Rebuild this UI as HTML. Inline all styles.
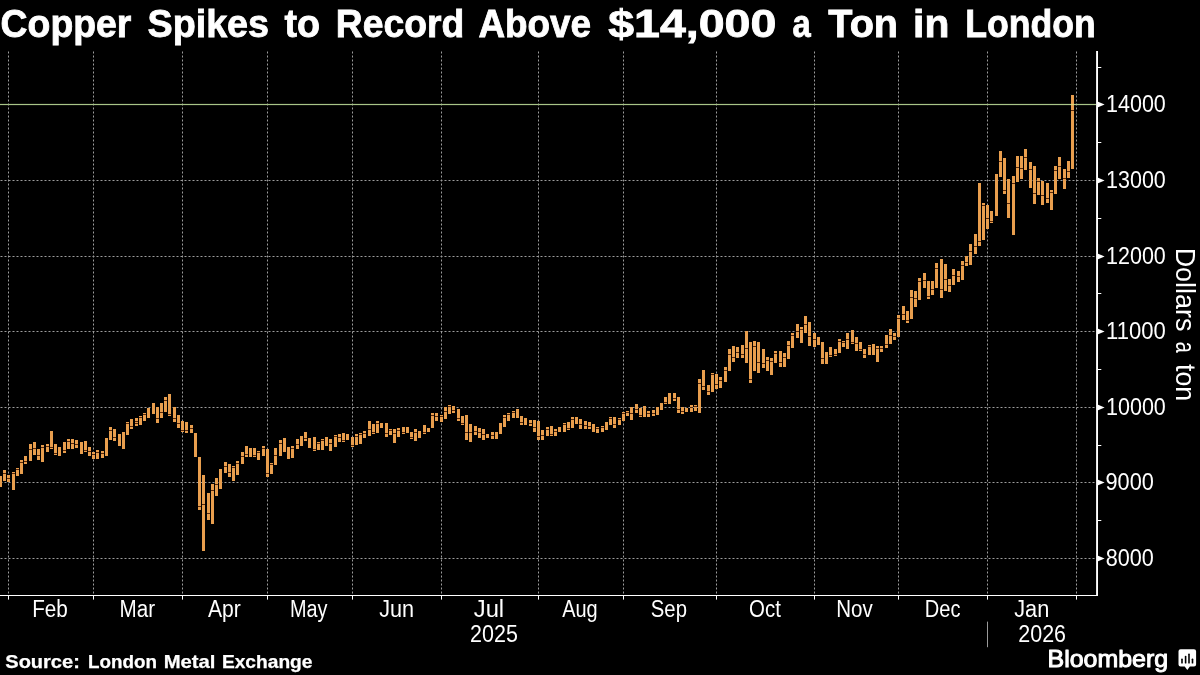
<!DOCTYPE html>
<html lang="en"><head><meta charset="utf-8"><title>Copper Spikes to Record Above $14,000 a Ton in London</title>
<style>html,body{margin:0;padding:0;background:#000;}body{width:1200px;height:675px;overflow:hidden;font-family:"Liberation Sans", sans-serif;}svg{display:block;will-change:transform}text{font-family:"Liberation Sans", sans-serif;fill:#fff}</style>
</head><body>
<svg width="1200" height="675" viewBox="0 0 1200 675">
<rect x="0" y="0" width="1200" height="675" fill="#000"/>
<g stroke="#9c9c9c" stroke-width="1" fill="none">
<line x1="8.5" y1="51.5" x2="8.5" y2="595" stroke-dasharray="2 2"/>
<line x1="93.5" y1="51.5" x2="93.5" y2="595" stroke-dasharray="2 2"/>
<line x1="182.5" y1="51.5" x2="182.5" y2="595" stroke-dasharray="2 2"/>
<line x1="267.5" y1="51.5" x2="267.5" y2="595" stroke-dasharray="2 2"/>
<line x1="352.5" y1="51.5" x2="352.5" y2="595" stroke-dasharray="2 2"/>
<line x1="441.5" y1="51.5" x2="441.5" y2="595" stroke-dasharray="2 2"/>
<line x1="538.5" y1="51.5" x2="538.5" y2="595" stroke-dasharray="2 2"/>
<line x1="623.5" y1="51.5" x2="623.5" y2="595" stroke-dasharray="2 2"/>
<line x1="716.5" y1="51.5" x2="716.5" y2="595" stroke-dasharray="2 2"/>
<line x1="814.5" y1="51.5" x2="814.5" y2="595" stroke-dasharray="2 2"/>
<line x1="898.5" y1="51.5" x2="898.5" y2="595" stroke-dasharray="2 2"/>
<line x1="987.5" y1="51.5" x2="987.5" y2="595" stroke-dasharray="2 2"/>
<line x1="1076.5" y1="51.5" x2="1076.5" y2="595" stroke-dasharray="2 2"/>
<line x1="0.5" y1="180.5" x2="1095" y2="180.5" stroke-dasharray="2 2"/>
<line x1="0.5" y1="256.5" x2="1095" y2="256.5" stroke-dasharray="2 2"/>
<line x1="0.5" y1="331.5" x2="1095" y2="331.5" stroke-dasharray="2 2"/>
<line x1="0.5" y1="407.5" x2="1095" y2="407.5" stroke-dasharray="2 2"/>
<line x1="0.5" y1="482.5" x2="1095" y2="482.5" stroke-dasharray="2 2"/>
<line x1="0.5" y1="558.5" x2="1095" y2="558.5" stroke-dasharray="2 2"/>
</g>
<g fill="#e89e4e" shape-rendering="crispEdges">
<rect x="0" y="476" width="2" height="11"/>
<rect x="3" y="470" width="3" height="11"/>
<rect x="7" y="475" width="3" height="7"/>
<rect x="12" y="472" width="3" height="18"/>
<rect x="16" y="468" width="3" height="8"/>
<rect x="20" y="460" width="3" height="14"/>
<rect x="24" y="456" width="3" height="8"/>
<rect x="29" y="444" width="3" height="17"/>
<rect x="33" y="442" width="3" height="13"/>
<rect x="37" y="449" width="3" height="11"/>
<rect x="41" y="445" width="3" height="17"/>
<rect x="46" y="444" width="3" height="8"/>
<rect x="50" y="431" width="3" height="18"/>
<rect x="54" y="444" width="3" height="11"/>
<rect x="58" y="447" width="3" height="9"/>
<rect x="63" y="442" width="3" height="11"/>
<rect x="67" y="439" width="3" height="10"/>
<rect x="71" y="439" width="3" height="10"/>
<rect x="75" y="440" width="3" height="8"/>
<rect x="80" y="442" width="3" height="12"/>
<rect x="84" y="441" width="3" height="11"/>
<rect x="88" y="447" width="3" height="9"/>
<rect x="92" y="452" width="3" height="7"/>
<rect x="96" y="450" width="3" height="9"/>
<rect x="101" y="451" width="3" height="7"/>
<rect x="105" y="438" width="3" height="18"/>
<rect x="109" y="427" width="3" height="13"/>
<rect x="113" y="429" width="3" height="12"/>
<rect x="118" y="434" width="3" height="12"/>
<rect x="122" y="432" width="3" height="17"/>
<rect x="126" y="422" width="3" height="13"/>
<rect x="130" y="419" width="3" height="10"/>
<rect x="135" y="418" width="3" height="8"/>
<rect x="139" y="416" width="3" height="9"/>
<rect x="143" y="413" width="3" height="8"/>
<rect x="147" y="408" width="3" height="10"/>
<rect x="152" y="403" width="3" height="11"/>
<rect x="156" y="407" width="3" height="16"/>
<rect x="160" y="403" width="3" height="15"/>
<rect x="164" y="397" width="3" height="15"/>
<rect x="168" y="394" width="3" height="22"/>
<rect x="173" y="407" width="3" height="15"/>
<rect x="177" y="415" width="3" height="13"/>
<rect x="181" y="421" width="3" height="11"/>
<rect x="185" y="422" width="3" height="11"/>
<rect x="190" y="425" width="3" height="8"/>
<rect x="194" y="433" width="3" height="24"/>
<rect x="198" y="457" width="3" height="53"/>
<rect x="202" y="475" width="3" height="76"/>
<rect x="207" y="493" width="3" height="27"/>
<rect x="211" y="484" width="3" height="40"/>
<rect x="215" y="478" width="3" height="18"/>
<rect x="219" y="469" width="3" height="20"/>
<rect x="224" y="462" width="3" height="11"/>
<rect x="228" y="464" width="3" height="13"/>
<rect x="232" y="466" width="3" height="15"/>
<rect x="236" y="461" width="3" height="14"/>
<rect x="241" y="452" width="3" height="12"/>
<rect x="245" y="446" width="3" height="11"/>
<rect x="249" y="448" width="3" height="9"/>
<rect x="253" y="448" width="3" height="9"/>
<rect x="257" y="451" width="3" height="9"/>
<rect x="262" y="446" width="3" height="10"/>
<rect x="266" y="449" width="3" height="28"/>
<rect x="270" y="463" width="3" height="11"/>
<rect x="274" y="448" width="3" height="17"/>
<rect x="279" y="440" width="3" height="16"/>
<rect x="283" y="438" width="3" height="14"/>
<rect x="287" y="447" width="3" height="12"/>
<rect x="291" y="446" width="3" height="12"/>
<rect x="296" y="439" width="3" height="10"/>
<rect x="300" y="436" width="3" height="10"/>
<rect x="304" y="432" width="3" height="9"/>
<rect x="308" y="438" width="3" height="10"/>
<rect x="313" y="437" width="3" height="14"/>
<rect x="317" y="442" width="3" height="8"/>
<rect x="321" y="439" width="3" height="11"/>
<rect x="325" y="437" width="3" height="9"/>
<rect x="329" y="439" width="3" height="12"/>
<rect x="334" y="435" width="3" height="12"/>
<rect x="338" y="434" width="3" height="8"/>
<rect x="342" y="433" width="3" height="9"/>
<rect x="346" y="434" width="3" height="6"/>
<rect x="351" y="437" width="3" height="10"/>
<rect x="355" y="434" width="3" height="11"/>
<rect x="359" y="433" width="3" height="11"/>
<rect x="363" y="431" width="3" height="7"/>
<rect x="368" y="421" width="3" height="15"/>
<rect x="372" y="424" width="3" height="10"/>
<rect x="376" y="421" width="3" height="12"/>
<rect x="380" y="423" width="3" height="5"/>
<rect x="385" y="423" width="3" height="14"/>
<rect x="389" y="429" width="3" height="6"/>
<rect x="393" y="429" width="3" height="14"/>
<rect x="397" y="428" width="3" height="9"/>
<rect x="402" y="427" width="3" height="7"/>
<rect x="406" y="427" width="3" height="6"/>
<rect x="410" y="432" width="3" height="7"/>
<rect x="414" y="429" width="3" height="12"/>
<rect x="418" y="431" width="3" height="7"/>
<rect x="423" y="425" width="3" height="9"/>
<rect x="427" y="428" width="3" height="4"/>
<rect x="431" y="413" width="3" height="15"/>
<rect x="435" y="413" width="3" height="8"/>
<rect x="440" y="415" width="3" height="7"/>
<rect x="444" y="407" width="3" height="12"/>
<rect x="448" y="405" width="3" height="9"/>
<rect x="452" y="406" width="3" height="7"/>
<rect x="457" y="409" width="3" height="12"/>
<rect x="461" y="416" width="3" height="9"/>
<rect x="465" y="415" width="3" height="25"/>
<rect x="469" y="424" width="3" height="18"/>
<rect x="474" y="426" width="3" height="9"/>
<rect x="478" y="428" width="3" height="10"/>
<rect x="482" y="429" width="3" height="11"/>
<rect x="486" y="434" width="3" height="4"/>
<rect x="491" y="432" width="3" height="7"/>
<rect x="495" y="432" width="3" height="7"/>
<rect x="499" y="423" width="3" height="11"/>
<rect x="503" y="415" width="3" height="12"/>
<rect x="507" y="413" width="3" height="8"/>
<rect x="512" y="411" width="3" height="7"/>
<rect x="516" y="409" width="3" height="9"/>
<rect x="520" y="416" width="3" height="9"/>
<rect x="524" y="418" width="3" height="7"/>
<rect x="529" y="420" width="3" height="6"/>
<rect x="533" y="420" width="3" height="12"/>
<rect x="537" y="421" width="3" height="19"/>
<rect x="541" y="430" width="3" height="10"/>
<rect x="546" y="427" width="3" height="9"/>
<rect x="550" y="426" width="3" height="10"/>
<rect x="554" y="429" width="3" height="7"/>
<rect x="558" y="427" width="3" height="5"/>
<rect x="563" y="423" width="3" height="9"/>
<rect x="567" y="422" width="3" height="8"/>
<rect x="571" y="417" width="3" height="11"/>
<rect x="575" y="417" width="3" height="7"/>
<rect x="579" y="419" width="3" height="10"/>
<rect x="584" y="421" width="3" height="8"/>
<rect x="588" y="422" width="3" height="7"/>
<rect x="592" y="424" width="3" height="8"/>
<rect x="596" y="427" width="3" height="6"/>
<rect x="601" y="426" width="3" height="6"/>
<rect x="605" y="422" width="3" height="8"/>
<rect x="609" y="417" width="3" height="8"/>
<rect x="613" y="417" width="3" height="11"/>
<rect x="618" y="418" width="3" height="7"/>
<rect x="622" y="412" width="3" height="9"/>
<rect x="626" y="411" width="3" height="5"/>
<rect x="630" y="407" width="3" height="13"/>
<rect x="635" y="404" width="3" height="9"/>
<rect x="639" y="408" width="3" height="9"/>
<rect x="643" y="406" width="3" height="11"/>
<rect x="647" y="411" width="3" height="6"/>
<rect x="652" y="410" width="3" height="6"/>
<rect x="656" y="407" width="3" height="8"/>
<rect x="660" y="403" width="3" height="7"/>
<rect x="664" y="397" width="3" height="7"/>
<rect x="668" y="393" width="3" height="11"/>
<rect x="673" y="393" width="3" height="8"/>
<rect x="677" y="397" width="3" height="16"/>
<rect x="681" y="407" width="3" height="7"/>
<rect x="685" y="408" width="3" height="4"/>
<rect x="690" y="405" width="3" height="7"/>
<rect x="694" y="405" width="3" height="6"/>
<rect x="698" y="379" width="3" height="34"/>
<rect x="702" y="370" width="3" height="20"/>
<rect x="707" y="385" width="3" height="10"/>
<rect x="711" y="373" width="3" height="19"/>
<rect x="715" y="374" width="3" height="15"/>
<rect x="719" y="377" width="3" height="11"/>
<rect x="724" y="367" width="3" height="15"/>
<rect x="728" y="349" width="3" height="22"/>
<rect x="732" y="346" width="3" height="16"/>
<rect x="736" y="347" width="3" height="11"/>
<rect x="741" y="345" width="3" height="13"/>
<rect x="745" y="331" width="3" height="32"/>
<rect x="749" y="342" width="3" height="41"/>
<rect x="753" y="341" width="3" height="30"/>
<rect x="757" y="342" width="3" height="31"/>
<rect x="762" y="349" width="3" height="19"/>
<rect x="766" y="357" width="3" height="14"/>
<rect x="770" y="358" width="3" height="17"/>
<rect x="774" y="351" width="3" height="12"/>
<rect x="779" y="351" width="3" height="16"/>
<rect x="783" y="353" width="3" height="14"/>
<rect x="787" y="341" width="3" height="18"/>
<rect x="791" y="333" width="3" height="15"/>
<rect x="796" y="324" width="3" height="14"/>
<rect x="800" y="327" width="3" height="16"/>
<rect x="804" y="316" width="3" height="17"/>
<rect x="808" y="322" width="3" height="24"/>
<rect x="813" y="333" width="3" height="14"/>
<rect x="817" y="337" width="3" height="8"/>
<rect x="821" y="342" width="3" height="22"/>
<rect x="825" y="352" width="3" height="12"/>
<rect x="829" y="347" width="3" height="10"/>
<rect x="834" y="349" width="3" height="7"/>
<rect x="838" y="339" width="3" height="14"/>
<rect x="842" y="341" width="3" height="6"/>
<rect x="846" y="333" width="3" height="16"/>
<rect x="851" y="330" width="3" height="14"/>
<rect x="855" y="337" width="3" height="14"/>
<rect x="859" y="342" width="3" height="9"/>
<rect x="863" y="349" width="3" height="9"/>
<rect x="868" y="345" width="3" height="10"/>
<rect x="872" y="344" width="3" height="11"/>
<rect x="876" y="346" width="3" height="16"/>
<rect x="880" y="346" width="3" height="6"/>
<rect x="885" y="335" width="3" height="13"/>
<rect x="889" y="329" width="3" height="15"/>
<rect x="893" y="333" width="3" height="7"/>
<rect x="897" y="315" width="3" height="22"/>
<rect x="902" y="306" width="3" height="14"/>
<rect x="906" y="311" width="3" height="12"/>
<rect x="910" y="290" width="3" height="29"/>
<rect x="914" y="291" width="3" height="16"/>
<rect x="918" y="278" width="3" height="22"/>
<rect x="923" y="273" width="3" height="15"/>
<rect x="927" y="281" width="3" height="18"/>
<rect x="931" y="281" width="3" height="14"/>
<rect x="935" y="263" width="3" height="25"/>
<rect x="940" y="259" width="3" height="39"/>
<rect x="944" y="264" width="3" height="27"/>
<rect x="948" y="279" width="3" height="13"/>
<rect x="952" y="269" width="3" height="16"/>
<rect x="957" y="271" width="3" height="11"/>
<rect x="961" y="261" width="3" height="19"/>
<rect x="965" y="256" width="3" height="10"/>
<rect x="969" y="244" width="3" height="21"/>
<rect x="974" y="234" width="3" height="20"/>
<rect x="978" y="183" width="3" height="63"/>
<rect x="982" y="203" width="3" height="37"/>
<rect x="986" y="205" width="3" height="24"/>
<rect x="990" y="211" width="3" height="12"/>
<rect x="995" y="174" width="3" height="42"/>
<rect x="999" y="151" width="3" height="26"/>
<rect x="1003" y="158" width="3" height="36"/>
<rect x="1007" y="179" width="3" height="39"/>
<rect x="1012" y="176" width="3" height="59"/>
<rect x="1016" y="156" width="3" height="26"/>
<rect x="1020" y="156" width="3" height="23"/>
<rect x="1024" y="149" width="3" height="21"/>
<rect x="1029" y="162" width="3" height="26"/>
<rect x="1033" y="166" width="3" height="38"/>
<rect x="1037" y="178" width="3" height="17"/>
<rect x="1041" y="181" width="3" height="24"/>
<rect x="1046" y="183" width="3" height="20"/>
<rect x="1050" y="190" width="3" height="20"/>
<rect x="1054" y="166" width="3" height="28"/>
<rect x="1058" y="157" width="3" height="22"/>
<rect x="1063" y="169" width="3" height="20"/>
<rect x="1067" y="161" width="3" height="17"/>
<rect x="1071" y="95" width="3" height="74"/>
</g>
<g fill="#5a2808" shape-rendering="crispEdges">
<rect x="3" y="473" width="3" height="1"/>
<rect x="7" y="478" width="3" height="1"/>
<rect x="12" y="473" width="3" height="1"/>
<rect x="16" y="469" width="3" height="1"/>
<rect x="20" y="462" width="3" height="1"/>
<rect x="24" y="461" width="3" height="1"/>
<rect x="29" y="449" width="3" height="1"/>
<rect x="33" y="448" width="3" height="1"/>
<rect x="37" y="455" width="3" height="1"/>
<rect x="41" y="447" width="3" height="1"/>
<rect x="46" y="446" width="3" height="1"/>
<rect x="50" y="447" width="3" height="1"/>
<rect x="54" y="453" width="3" height="1"/>
<rect x="63" y="450" width="3" height="1"/>
<rect x="67" y="441" width="3" height="1"/>
<rect x="71" y="443" width="3" height="1"/>
<rect x="75" y="444" width="3" height="1"/>
<rect x="84" y="450" width="3" height="1"/>
<rect x="88" y="451" width="3" height="1"/>
<rect x="92" y="454" width="3" height="1"/>
<rect x="96" y="452" width="3" height="1"/>
<rect x="101" y="453" width="3" height="1"/>
<rect x="109" y="430" width="3" height="1"/>
<rect x="113" y="437" width="3" height="1"/>
<rect x="126" y="423" width="3" height="1"/>
<rect x="130" y="426" width="3" height="1"/>
<rect x="135" y="421" width="3" height="1"/>
<rect x="135" y="423" width="3" height="1"/>
<rect x="139" y="417" width="3" height="1"/>
<rect x="143" y="414" width="3" height="1"/>
<rect x="156" y="418" width="3" height="1"/>
<rect x="160" y="412" width="3" height="1"/>
<rect x="164" y="400" width="3" height="1"/>
<rect x="168" y="414" width="3" height="1"/>
<rect x="173" y="418" width="3" height="1"/>
<rect x="177" y="423" width="3" height="1"/>
<rect x="181" y="430" width="3" height="1"/>
<rect x="185" y="430" width="3" height="1"/>
<rect x="190" y="428" width="3" height="1"/>
<rect x="198" y="506" width="3" height="1"/>
<rect x="202" y="504" width="3" height="1"/>
<rect x="207" y="513" width="3" height="1"/>
<rect x="211" y="490" width="3" height="1"/>
<rect x="215" y="484" width="3" height="1"/>
<rect x="224" y="466" width="3" height="1"/>
<rect x="228" y="472" width="3" height="1"/>
<rect x="232" y="467" width="3" height="1"/>
<rect x="236" y="463" width="3" height="1"/>
<rect x="241" y="456" width="3" height="1"/>
<rect x="245" y="454" width="3" height="1"/>
<rect x="253" y="455" width="3" height="1"/>
<rect x="257" y="452" width="3" height="1"/>
<rect x="262" y="448" width="3" height="1"/>
<rect x="266" y="473" width="3" height="1"/>
<rect x="270" y="464" width="3" height="1"/>
<rect x="274" y="455" width="3" height="1"/>
<rect x="279" y="443" width="3" height="1"/>
<rect x="291" y="448" width="3" height="1"/>
<rect x="296" y="444" width="3" height="1"/>
<rect x="304" y="438" width="3" height="1"/>
<rect x="313" y="449" width="3" height="1"/>
<rect x="317" y="443" width="3" height="1"/>
<rect x="321" y="440" width="3" height="1"/>
<rect x="329" y="443" width="3" height="1"/>
<rect x="334" y="436" width="3" height="1"/>
<rect x="338" y="437" width="3" height="1"/>
<rect x="342" y="440" width="3" height="1"/>
<rect x="351" y="445" width="3" height="1"/>
<rect x="355" y="436" width="3" height="1"/>
<rect x="359" y="434" width="3" height="1"/>
<rect x="363" y="433" width="3" height="1"/>
<rect x="368" y="429" width="3" height="1"/>
<rect x="372" y="432" width="3" height="1"/>
<rect x="376" y="423" width="3" height="1"/>
<rect x="385" y="433" width="3" height="1"/>
<rect x="389" y="430" width="3" height="1"/>
<rect x="393" y="433" width="3" height="1"/>
<rect x="397" y="430" width="3" height="1"/>
<rect x="402" y="432" width="3" height="1"/>
<rect x="410" y="437" width="3" height="1"/>
<rect x="414" y="432" width="3" height="1"/>
<rect x="423" y="432" width="3" height="1"/>
<rect x="431" y="415" width="3" height="1"/>
<rect x="435" y="416" width="3" height="1"/>
<rect x="440" y="416" width="3" height="1"/>
<rect x="444" y="411" width="3" height="1"/>
<rect x="448" y="406" width="3" height="1"/>
<rect x="452" y="410" width="3" height="1"/>
<rect x="457" y="418" width="3" height="1"/>
<rect x="461" y="423" width="3" height="1"/>
<rect x="465" y="432" width="3" height="1"/>
<rect x="469" y="432" width="3" height="1"/>
<rect x="474" y="431" width="3" height="1"/>
<rect x="478" y="432" width="3" height="1"/>
<rect x="482" y="434" width="3" height="1"/>
<rect x="491" y="435" width="3" height="1"/>
<rect x="503" y="417" width="3" height="1"/>
<rect x="507" y="414" width="3" height="1"/>
<rect x="512" y="412" width="3" height="1"/>
<rect x="520" y="422" width="3" height="1"/>
<rect x="529" y="423" width="3" height="1"/>
<rect x="533" y="427" width="3" height="1"/>
<rect x="537" y="436" width="3" height="1"/>
<rect x="541" y="435" width="3" height="1"/>
<rect x="546" y="429" width="3" height="1"/>
<rect x="550" y="434" width="3" height="1"/>
<rect x="554" y="431" width="3" height="1"/>
<rect x="563" y="424" width="3" height="1"/>
<rect x="567" y="428" width="3" height="1"/>
<rect x="571" y="419" width="3" height="1"/>
<rect x="579" y="424" width="3" height="1"/>
<rect x="584" y="425" width="3" height="1"/>
<rect x="588" y="426" width="3" height="1"/>
<rect x="596" y="428" width="3" height="1"/>
<rect x="601" y="427" width="3" height="1"/>
<rect x="609" y="418" width="3" height="1"/>
<rect x="613" y="424" width="3" height="1"/>
<rect x="618" y="419" width="3" height="1"/>
<rect x="622" y="413" width="3" height="1"/>
<rect x="626" y="412" width="3" height="1"/>
<rect x="630" y="413" width="3" height="1"/>
<rect x="635" y="409" width="3" height="1"/>
<rect x="639" y="415" width="3" height="1"/>
<rect x="647" y="413" width="3" height="1"/>
<rect x="652" y="413" width="3" height="1"/>
<rect x="664" y="402" width="3" height="1"/>
<rect x="673" y="398" width="3" height="1"/>
<rect x="677" y="409" width="3" height="1"/>
<rect x="681" y="411" width="3" height="1"/>
<rect x="690" y="407" width="3" height="1"/>
<rect x="694" y="406" width="3" height="1"/>
<rect x="698" y="383" width="3" height="1"/>
<rect x="702" y="386" width="3" height="1"/>
<rect x="707" y="391" width="3" height="1"/>
<rect x="711" y="374" width="3" height="1"/>
<rect x="715" y="384" width="3" height="1"/>
<rect x="719" y="380" width="3" height="1"/>
<rect x="724" y="370" width="3" height="1"/>
<rect x="728" y="354" width="3" height="1"/>
<rect x="732" y="357" width="3" height="1"/>
<rect x="736" y="352" width="3" height="1"/>
<rect x="741" y="354" width="3" height="1"/>
<rect x="745" y="348" width="3" height="1"/>
<rect x="749" y="379" width="3" height="1"/>
<rect x="753" y="346" width="3" height="1"/>
<rect x="757" y="362" width="3" height="1"/>
<rect x="762" y="363" width="3" height="1"/>
<rect x="766" y="360" width="3" height="1"/>
<rect x="770" y="361" width="3" height="1"/>
<rect x="774" y="353" width="3" height="1"/>
<rect x="779" y="362" width="3" height="1"/>
<rect x="783" y="357" width="3" height="1"/>
<rect x="787" y="345" width="3" height="1"/>
<rect x="791" y="335" width="3" height="1"/>
<rect x="796" y="331" width="3" height="1"/>
<rect x="800" y="329" width="3" height="1"/>
<rect x="804" y="324" width="3" height="1"/>
<rect x="808" y="336" width="3" height="1"/>
<rect x="813" y="339" width="3" height="1"/>
<rect x="821" y="358" width="3" height="1"/>
<rect x="829" y="355" width="3" height="1"/>
<rect x="834" y="354" width="3" height="1"/>
<rect x="838" y="341" width="3" height="1"/>
<rect x="842" y="342" width="3" height="1"/>
<rect x="846" y="339" width="3" height="1"/>
<rect x="851" y="342" width="3" height="1"/>
<rect x="855" y="343" width="3" height="1"/>
<rect x="859" y="349" width="3" height="1"/>
<rect x="863" y="354" width="3" height="1"/>
<rect x="868" y="346" width="3" height="1"/>
<rect x="876" y="348" width="3" height="1"/>
<rect x="880" y="348" width="3" height="1"/>
<rect x="885" y="344" width="3" height="1"/>
<rect x="889" y="335" width="3" height="1"/>
<rect x="893" y="336" width="3" height="1"/>
<rect x="897" y="318" width="3" height="1"/>
<rect x="902" y="314" width="3" height="1"/>
<rect x="906" y="320" width="3" height="1"/>
<rect x="910" y="297" width="3" height="1"/>
<rect x="914" y="298" width="3" height="1"/>
<rect x="918" y="281" width="3" height="1"/>
<rect x="923" y="280" width="3" height="1"/>
<rect x="927" y="296" width="3" height="1"/>
<rect x="931" y="289" width="3" height="1"/>
<rect x="935" y="268" width="3" height="1"/>
<rect x="940" y="289" width="3" height="1"/>
<rect x="944" y="279" width="3" height="1"/>
<rect x="948" y="285" width="3" height="1"/>
<rect x="952" y="275" width="3" height="1"/>
<rect x="957" y="276" width="3" height="1"/>
<rect x="961" y="265" width="3" height="1"/>
<rect x="965" y="262" width="3" height="1"/>
<rect x="969" y="251" width="3" height="1"/>
<rect x="974" y="246" width="3" height="1"/>
<rect x="978" y="241" width="3" height="1"/>
<rect x="982" y="205" width="3" height="1"/>
<rect x="986" y="218" width="3" height="1"/>
<rect x="990" y="221" width="3" height="1"/>
<rect x="999" y="161" width="3" height="1"/>
<rect x="1003" y="190" width="3" height="1"/>
<rect x="1007" y="203" width="3" height="1"/>
<rect x="1012" y="183" width="3" height="1"/>
<rect x="1016" y="167" width="3" height="1"/>
<rect x="1020" y="168" width="3" height="1"/>
<rect x="1024" y="157" width="3" height="1"/>
<rect x="1029" y="169" width="3" height="1"/>
<rect x="1033" y="193" width="3" height="1"/>
<rect x="1037" y="181" width="3" height="1"/>
<rect x="1041" y="195" width="3" height="1"/>
<rect x="1046" y="198" width="3" height="1"/>
<rect x="1050" y="192" width="3" height="1"/>
<rect x="1054" y="170" width="3" height="1"/>
<rect x="1058" y="166" width="3" height="1"/>
<rect x="1063" y="178" width="3" height="1"/>
<rect x="1067" y="171" width="3" height="1"/>
<rect x="1071" y="110" width="3" height="1"/>
</g>
<rect x="0" y="103.9" width="1096" height="1.2" fill="#a8c488"/><rect x="1071" y="103.9" width="3" height="1.2" fill="#e9d272"/>
<g fill="#fff">
<rect x="1096.1" y="51" width="1.9" height="545"/>
<rect x="0" y="595" width="1098" height="1"/>
<rect x="8.0" y="595" width="1" height="4.6"/>
<rect x="93.0" y="595" width="1" height="4.6"/>
<rect x="182.0" y="595" width="1" height="4.6"/>
<rect x="267.0" y="595" width="1" height="4.6"/>
<rect x="352.0" y="595" width="1" height="4.6"/>
<rect x="441.0" y="595" width="1" height="4.6"/>
<rect x="538.0" y="595" width="1" height="4.6"/>
<rect x="623.0" y="595" width="1" height="4.6"/>
<rect x="716.0" y="595" width="1" height="4.6"/>
<rect x="814.0" y="595" width="1" height="4.6"/>
<rect x="898.0" y="595" width="1" height="4.6"/>
<rect x="987.0" y="595" width="1" height="4.6"/>
<rect x="1076.0" y="595" width="1" height="4.6"/>
<path d="M1097.5 101.4 L1104.6 104.5 L1097.5 107.6 Z"/>
<path d="M1097.5 177.4 L1104.6 180.5 L1097.5 183.6 Z"/>
<path d="M1097.5 253.4 L1104.6 256.5 L1097.5 259.6 Z"/>
<path d="M1097.5 328.4 L1104.6 331.5 L1097.5 334.6 Z"/>
<path d="M1097.5 404.4 L1104.6 407.5 L1097.5 410.6 Z"/>
<path d="M1097.5 479.4 L1104.6 482.5 L1097.5 485.6 Z"/>
<path d="M1097.5 555.4 L1104.6 558.5 L1097.5 561.6 Z"/>
<rect x="1097.5" y="67.0" width="3.8" height="1"/>
<rect x="1097.5" y="142.0" width="3.8" height="1"/>
<rect x="1097.5" y="218.0" width="3.8" height="1"/>
<rect x="1097.5" y="293.0" width="3.8" height="1"/>
<rect x="1097.5" y="369.0" width="3.8" height="1"/>
<rect x="1097.5" y="445.0" width="3.8" height="1"/>
<rect x="1097.5" y="520.0" width="3.8" height="1"/>
</g>
<rect x="987" y="621.6" width="1" height="25.6" fill="#9a9a9a"/>
<g id="title">
<text x="0.61" y="37.00" font-size="38" font-weight="700" textLength="130.70" lengthAdjust="spacingAndGlyphs" stroke="#fff" stroke-width="0.8">Copper</text>
<text x="147.49" y="37.00" font-size="38" font-weight="700" textLength="121.58" lengthAdjust="spacingAndGlyphs" stroke="#fff" stroke-width="0.8">Spikes</text>
<text x="284.45" y="37.00" font-size="38" font-weight="700" textLength="35.55" lengthAdjust="spacingAndGlyphs" stroke="#fff" stroke-width="0.8">to</text>
<text x="335.84" y="37.00" font-size="38" font-weight="700" textLength="128.34" lengthAdjust="spacingAndGlyphs" stroke="#fff" stroke-width="0.8">Record</text>
<text x="478.38" y="37.00" font-size="38" font-weight="700" textLength="112.75" lengthAdjust="spacingAndGlyphs" stroke="#fff" stroke-width="0.8">Above</text>
<text x="608.25" y="37.00" font-size="38" font-weight="700" textLength="168.07" lengthAdjust="spacingAndGlyphs" stroke="#fff" stroke-width="0.8">$14,000</text>
<text x="792.41" y="37.00" font-size="38" font-weight="700" textLength="18.20" lengthAdjust="spacingAndGlyphs" stroke="#fff" stroke-width="0.8">a</text>
<text x="828.39" y="37.00" font-size="38" font-weight="700" textLength="69.68" lengthAdjust="spacingAndGlyphs" stroke="#fff" stroke-width="0.8">Ton</text>
<text x="913.12" y="37.00" font-size="38" font-weight="700" textLength="36.27" lengthAdjust="spacingAndGlyphs" stroke="#fff" stroke-width="0.8">in</text>
<text x="965.15" y="37.00" font-size="38" font-weight="700" textLength="130.68" lengthAdjust="spacingAndGlyphs" stroke="#fff" stroke-width="0.8">London</text>
</g>
<g id="ylab">
<text x="1106.06" y="111.85" font-size="23.2" font-weight="400" textLength="59.73" lengthAdjust="spacingAndGlyphs" >14000</text>
<text x="1106.06" y="187.85" font-size="23.2" font-weight="400" textLength="59.73" lengthAdjust="spacingAndGlyphs" >13000</text>
<text x="1106.06" y="263.85" font-size="23.2" font-weight="400" textLength="59.73" lengthAdjust="spacingAndGlyphs" >12000</text>
<text x="1106.06" y="338.85" font-size="23.2" font-weight="400" textLength="59.73" lengthAdjust="spacingAndGlyphs" >11000</text>
<text x="1106.06" y="414.85" font-size="23.2" font-weight="400" textLength="59.73" lengthAdjust="spacingAndGlyphs" >10000</text>
<text x="1105.52" y="489.85" font-size="23.2" font-weight="400" textLength="48.31" lengthAdjust="spacingAndGlyphs" >9000</text>
<text x="1105.77" y="565.85" font-size="23.2" font-weight="400" textLength="48.05" lengthAdjust="spacingAndGlyphs" >8000</text>
</g>
<g id="mon">
<text x="32.17" y="616.90" font-size="23" font-weight="400" textLength="35.62" lengthAdjust="spacingAndGlyphs" >Feb</text>
<text x="119.51" y="616.90" font-size="23" font-weight="400" textLength="35.57" lengthAdjust="spacingAndGlyphs" >Mar</text>
<text x="208.00" y="616.90" font-size="23" font-weight="400" textLength="32.85" lengthAdjust="spacingAndGlyphs" >Apr</text>
<text x="289.89" y="616.90" font-size="23" font-weight="400" textLength="37.52" lengthAdjust="spacingAndGlyphs" >May</text>
<text x="379.14" y="616.90" font-size="23" font-weight="400" textLength="34.88" lengthAdjust="spacingAndGlyphs" >Jun</text>
<text x="473.74" y="616.90" font-size="23" font-weight="400" textLength="30.41" lengthAdjust="spacingAndGlyphs" >Jul</text>
<text x="562.15" y="616.90" font-size="23" font-weight="400" textLength="35.52" lengthAdjust="spacingAndGlyphs" >Aug</text>
<text x="650.83" y="616.90" font-size="23" font-weight="400" textLength="36.09" lengthAdjust="spacingAndGlyphs" >Sep</text>
<text x="749.06" y="616.90" font-size="23" font-weight="400" textLength="31.79" lengthAdjust="spacingAndGlyphs" >Oct</text>
<text x="836.30" y="616.90" font-size="23" font-weight="400" textLength="36.47" lengthAdjust="spacingAndGlyphs" >Nov</text>
<text x="924.85" y="616.90" font-size="23" font-weight="400" textLength="35.67" lengthAdjust="spacingAndGlyphs" >Dec</text>
<text x="1014.18" y="616.90" font-size="23" font-weight="400" textLength="35.10" lengthAdjust="spacingAndGlyphs" >Jan</text>
</g>
<g id="yr">
<text x="470.08" y="641.80" font-size="23" font-weight="400" textLength="47.77" lengthAdjust="spacingAndGlyphs" >2025</text>
<text x="1018.32" y="641.80" font-size="23" font-weight="400" textLength="47.71" lengthAdjust="spacingAndGlyphs" >2026</text>
</g>
<g id="dollars" transform="translate(1176 0) rotate(90)">
<text x="247.63" y="0.00" font-size="27.6" font-weight="400" textLength="83.86" lengthAdjust="spacingAndGlyphs" >Dollars</text>
<text x="341.84" y="0.00" font-size="27.6" font-weight="400" textLength="11.01" lengthAdjust="spacingAndGlyphs" >a</text>
<text x="364.06" y="0.00" font-size="27.6" font-weight="400" textLength="37.18" lengthAdjust="spacingAndGlyphs" >ton</text>
</g>
<g id="src">
<text x="5.29" y="667.50" font-size="17.8" font-weight="700" textLength="74.52" lengthAdjust="spacingAndGlyphs" stroke="#fff" stroke-width="0.25">Source:</text>
<text x="88.12" y="667.50" font-size="17.8" font-weight="700" textLength="68.94" lengthAdjust="spacingAndGlyphs" stroke="#fff" stroke-width="0.25">London</text>
<text x="163.65" y="667.50" font-size="17.8" font-weight="700" textLength="51.86" lengthAdjust="spacingAndGlyphs" stroke="#fff" stroke-width="0.25">Metal</text>
<text x="221.93" y="667.50" font-size="17.8" font-weight="700" textLength="90.55" lengthAdjust="spacingAndGlyphs" stroke="#fff" stroke-width="0.25">Exchange</text>
</g>
<g id="bb">
<text x="1047.62" y="666.50" font-size="24" font-weight="400" textLength="120.47" lengthAdjust="spacingAndGlyphs" stroke="#fff" stroke-width="1.0" stroke-linejoin="round">Bloomberg</text>
</g>
<g id="bbicon">
<path fill="#fff" d="M1180.6 649.2 h13.4 a2.1 2.1 0 0 1 2.1 2.1 v13.2 a2.1 2.1 0 0 1 -2.1 2.1 h-4.1 l-2.6 3.5 l-2.6 -3.5 h-4.1 a2.1 2.1 0 0 1 -2.1 -2.1 v-13.2 a2.1 2.1 0 0 1 2.1 -2.1 z"/>
<g fill="#000"><rect x="1181.2" y="658.6" width="1.6" height="5" rx="0.7"/><rect x="1184.8" y="655.8" width="1.6" height="7.8" rx="0.7"/><rect x="1188.2" y="653.6" width="1.6" height="10" rx="0.7"/><rect x="1191.7" y="658.6" width="1.6" height="5" rx="0.7"/></g>
</g>
</svg></body></html>
